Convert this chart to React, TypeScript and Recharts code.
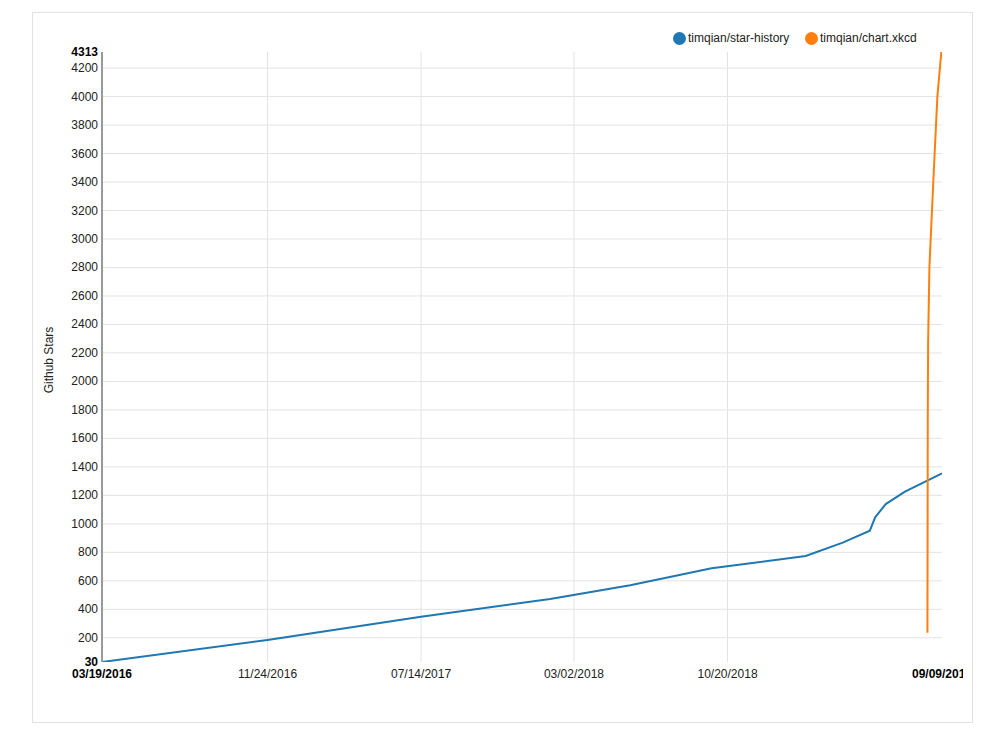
import React from 'react';
import { LineChart, Line, XAxis, YAxis, CartesianGrid, Label } from 'recharts';

// timqian/star-history
const starHistoryDates = [
  '2016-03-19', '2016-11-24', '2017-07-14', '2018-01-25', '2018-05-26', '2018-09-26',
  '2019-02-15', '2019-04-12', '2019-05-23', '2019-05-31', '2019-06-16', '2019-07-15', '2019-09-09',
];
const starHistoryStars = [30, 185, 348, 472, 569, 688, 774, 868, 952, 1046, 1139, 1226, 1355];

// timqian/chart.xkcd
const chartXkcdDates = [
  '2019-08-18T00:00Z', '2019-08-18T12:00Z', '2019-08-19T00:00Z', '2019-08-21T00:00Z',
  '2019-08-27T00:00Z', '2019-09-02T00:00Z', '2019-09-08T00:00Z',
];
const chartXkcdStars = [236, 1708, 2270, 2806, 3414, 4000, 4313];

const xTickDates = ['2016-03-19', '2016-11-24', '2017-07-14', '2018-03-02', '2018-10-20', '2019-09-09'];
const xGridDates = ['2016-11-24', '2017-07-14', '2018-03-02', '2018-10-20'];
const yTicks = [30, 200, 400, 600, 800, 1000, 1200, 1400, 1600, 1800, 2000, 2200, 2400, 2600, 2800, 3000, 3200, 3400, 3600, 3800, 4000, 4200, 4313];
const yGridValues = [200, 400, 600, 800, 1000, 1200, 1400, 1600, 1800, 2000, 2200, 2400, 2600, 2800, 3000, 3200, 3400, 3600, 3800, 4000, 4200];

const seriesNames = ['timqian/star-history', 'timqian/chart.xkcd'];
const seriesColors = ['#1f77b4', '#ff7f0e'];

const toT = (s: string) => Date.parse(s);
const starHistoryData = starHistoryDates.map((d, i) => ({ t: toT(d), stars: starHistoryStars[i] }));
const chartXkcdData = chartXkcdDates.map((d, i) => ({ t: toT(d), stars: chartXkcdStars[i] }));
const xTicks = xTickDates.map(toT);
const xGrid = xGridDates.map(toT);
const tMin = xTicks[0];
const tMax = xTicks[xTicks.length - 1];
const yMin = yTicks[0];
const yMax = yTicks[yTicks.length - 1];

const pad = (n: number) => (n < 10 ? '0' + n : '' + n);
const fmtDate = (t: number) => {
  const d = new Date(t);
  return `${pad(d.getUTCMonth() + 1)}/${pad(d.getUTCDate())}/${d.getUTCFullYear()}`;
};

const FONT = '"Liberation Sans", Arial, Helvetica, sans-serif';

const XTick = (props: any) => {
  const { x, y, payload } = props;
  const bold = payload.value === tMin || payload.value === tMax;
  return (
    <text x={x} y={y + 16} textAnchor="middle" fontSize={12} fontWeight={bold ? 700 : 400} fill={bold ? '#000' : '#222'} fontFamily={FONT}>
      {fmtDate(payload.value)}
    </text>
  );
};

const YTick = (props: any) => {
  const { x, y, payload } = props;
  const bold = payload.value === yMin || payload.value === yMax;
  return (
    <text x={x - 4} y={y + 4} textAnchor="end" fontSize={12} fontWeight={bold ? 700 : 400} fill={bold ? '#000' : '#222'} fontFamily={FONT}>
      {payload.value}
    </text>
  );
};

const YLabel = (props: any) => {
  const vb = props.viewBox || { x: 9, y: 39, height: 610 };
  const cx = vb.x + 10.5;
  const cy = vb.y + vb.height / 2 + 3;
  return (
    <text x={cx} y={cy} transform={`rotate(-90, ${cx}, ${cy})`} textAnchor="middle" fontSize={12} fill="#222" fontFamily={FONT}>
      Github Stars
    </text>
  );
};

export default function App() {
  return (
    <div style={{ paddingTop: 4, paddingLeft: 24 }}>
      <div
        style={{
          position: 'relative',
          width: 939,
          height: 709,
          border: '1px solid #e2e2e2',
          fontFamily: FONT,
          background: '#fff',
        }}
      >
        <div style={{ position: 'absolute', left: 0, top: 0, width: 930, height: 709, overflow: 'hidden' }}>
          <LineChart
            width={930}
            height={709}
            margin={{ top: 39, right: 21, bottom: 30, left: 9 }}
            style={{ fontFamily: FONT }}
          >
            <CartesianGrid
              stroke="#e3e3e3"
              strokeWidth={1}
              horizontalValues={yGridValues}
              verticalValues={xGrid}
            />
            <XAxis
              dataKey="t"
              type="number"
              domain={[tMin, tMax]}
              ticks={xTicks}
              interval={0}
              axisLine={false}
              tickLine={false}
              tickSize={0}
              tickMargin={0}
              height={30}
              tick={<XTick />}
              allowDataOverflow
            />
            <YAxis
              type="number"
              domain={[yMin, yMax]}
              ticks={yTicks}
              interval={0}
              width={60}
              tickLine={false}
              tickSize={0}
              tickMargin={0}
              axisLine={{ stroke: '#9a9a9a', strokeWidth: 2 }}
              tick={<YTick />}
              allowDataOverflow
            >
              <Label content={<YLabel />} />
            </YAxis>
            <Line
              data={starHistoryData}
              dataKey="stars"
              type="linear"
              stroke={seriesColors[0]}
              strokeWidth={2}
              dot={false}
              activeDot={false}
              isAnimationActive={false}
              name={seriesNames[0]}
            />
            <Line
              data={chartXkcdData}
              dataKey="stars"
              type="linear"
              stroke={seriesColors[1]}
              strokeWidth={2}
              dot={false}
              activeDot={false}
              isAnimationActive={false}
              name={seriesNames[1]}
            />
          </LineChart>
        </div>
        {seriesNames.map((name, i) => (
          <div
            key={name}
            style={{
              position: 'absolute',
              top: 18,
              left: i === 0 ? 640 : 772,
              height: 14,
              display: 'flex',
              alignItems: 'center',
              fontSize: 12,
              color: '#222',
              whiteSpace: 'nowrap',
            }}
          >
            <span
              style={{
                display: 'inline-block',
                width: 13,
                height: 13,
                borderRadius: '50%',
                background: seriesColors[i],
                marginRight: 2,
              }}
            />
            <span>{name}</span>
          </div>
        ))}
      </div>
    </div>
  );
}
